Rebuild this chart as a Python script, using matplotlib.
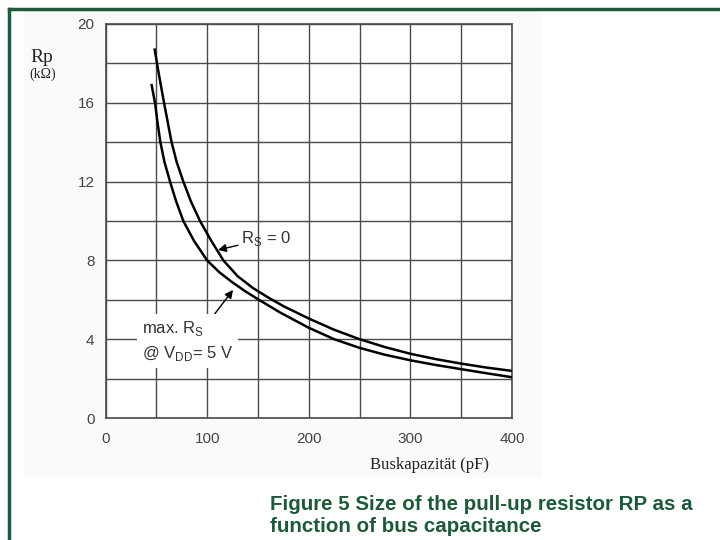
import matplotlib.pyplot as plt
from matplotlib.lines import Line2D
from matplotlib.patches import Rectangle

# Rs = 0 (upper curve)
cap_rs0 = [48.4, 52, 57.6, 65, 70, 76.6, 84, 93, 104, 116, 130, 145, 160, 175,
           200, 225, 250, 275, 300, 325, 350, 375, 400]
rp_rs0 = [18.7, 17.6, 16.0, 14.0, 13.0, 12.0, 11.0, 10.0, 9.0, 8.0, 7.2, 6.6, 6.12, 5.68,
          5.05, 4.48, 4.0, 3.6, 3.26, 2.99, 2.76, 2.56, 2.39]

# max. Rs @ VDD = 5 V (lower curve)
cap_rsmax = [45.4, 48.7, 51.2, 54, 58, 63.5, 69.5, 76.6, 87, 100, 112, 124, 137, 150, 172,
             200, 225, 250, 275, 300, 325, 350, 375, 400]
rp_rsmax = [16.9, 16.0, 15.0, 14.0, 13.0, 12.0, 11.0, 10.0, 9.0, 8.0, 7.4, 6.92, 6.45, 6.03, 5.35,
            4.58, 4.0, 3.56, 3.21, 2.93, 2.69, 2.48, 2.27, 2.07]

x_ticks = [0, 100, 200, 300, 400]
y_ticks = [0, 4, 8, 12, 16, 20]

green = "#1d5a3a"
grey = "#444444"
sans = "Liberation Sans"

fig = plt.figure(figsize=(7.2, 5.4), dpi=100)
fig.patch.set_facecolor("white")

# faint panel behind the chart and green frame
fig.patches.append(Rectangle((24 / 720, 1 - 477 / 540), (540 - 24) / 720, (477 - 11) / 540,
                             transform=fig.transFigure, color="#fafafa", zorder=-5))
fig.add_artist(Line2D([9 / 720, 1], [1 - 9 / 540, 1 - 9 / 540], transform=fig.transFigure,
                      color=green, lw=2.5))
fig.add_artist(Line2D([9 / 720, 9 / 720], [0, 1 - 9 / 540], transform=fig.transFigure,
                      color=green, lw=2.5))

ax = fig.add_axes([105.5 / 720, 1 - 418 / 540, 406.5 / 720, 394 / 540])
ax.set_zorder(2)
ax.set_facecolor("white")
ax.plot(cap_rs0, rp_rs0, color="black", lw=1.8, zorder=3)
ax.plot(cap_rsmax, rp_rsmax, color="black", lw=1.8, zorder=3)

ax.set_xlim(0, 400)
ax.set_ylim(0, 20)
ax.set_xticks(x_ticks)
ax.set_yticks(y_ticks)
ax.set_xticks(range(50, 400, 50), minor=True)
ax.set_yticks(range(2, 20, 2), minor=True)
ax.grid(True, which="both", color="#4a4a4a", lw=1.0)
ax.tick_params(which="both", length=0)
ax.tick_params(axis="x", pad=10, labelsize=11, labelcolor=grey)
ax.tick_params(axis="y", pad=8, labelsize=11, labelcolor=grey)
for lab in ax.get_xticklabels() + ax.get_yticklabels():
    lab.set_family(sans)
for s in ax.spines.values():
    s.set_color("#4a4a4a")
    s.set_linewidth(1.2)

# annotations
ax.annotate(r"R$_\mathregular{S}$ = 0", xy=(110.7, 8.53), xytext=(133, 9.1),
            fontsize=12, family=sans, color="#333333", va="center",
            arrowprops=dict(arrowstyle="-|>", color="black", lw=1.0, mutation_scale=12,
                            shrinkA=0, shrinkB=0))
ax.annotate("max. R$_\\mathregular{S}$\n@ V$_\\mathregular{DD}$= 5 V", xy=(125.5, 6.5),
            xytext=(36, 3.9), fontsize=12, family=sans, color="#333333", va="center",
            linespacing=1.4,
            bbox=dict(boxstyle="square,pad=0.3", fc="white", ec="none"),
            arrowprops=dict(arrowstyle="-|>", color="black", lw=1.0, mutation_scale=12,
                            shrinkA=0, shrinkB=0, relpos=(0.75, 1.0)))

# axis labels
fig.text(30 / 720, 1 - 58 / 540, "Rp", family="Liberation Serif", fontsize=14, color="#222222",
         va="center")
fig.text(29 / 720, 1 - 74 / 540, "(kΩ)", family="Liberation Serif", fontsize=10, color="#222222",
         va="center")
fig.text(430 / 720, 1 - 465 / 540, "Buskapazität (pF)", family="Liberation Serif", fontsize=12,
         color="#222222", ha="center", va="center")

fig.text(270 / 720, 1 - 515 / 540, "Figure 5 Size of the pull-up resistor RP as a\nfunction of bus capacitance",
         family=sans, fontsize=14.8, fontweight="bold", color=green, va="center",
         linespacing=1.2)

fig.savefig("out.png", dpi=100)
